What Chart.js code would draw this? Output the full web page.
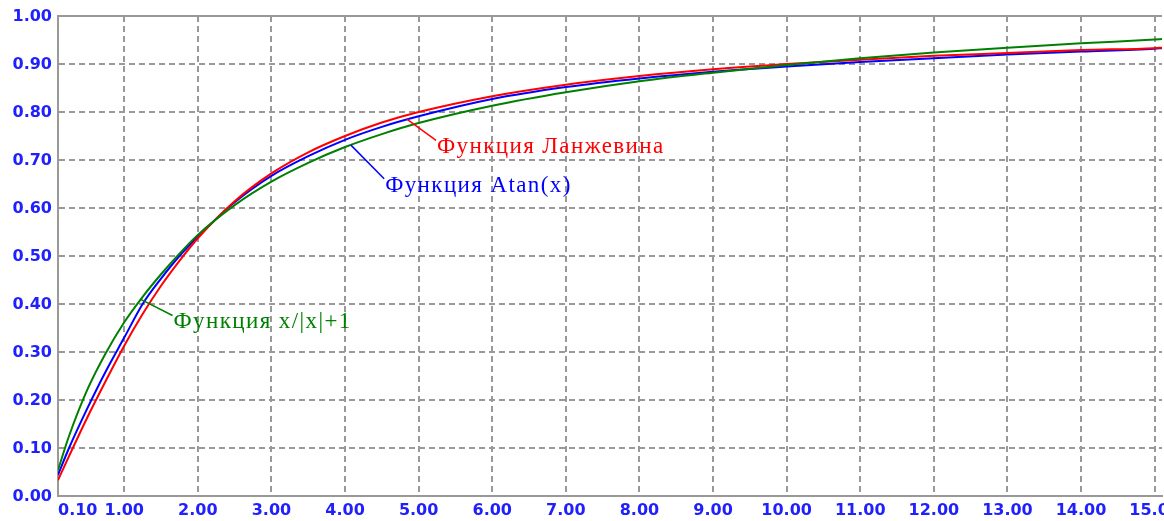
<!DOCTYPE html>
<html>
<head>
<meta charset="utf-8">
<script src="https://cdn.jsdelivr.net/npm/chart.js@4.4.1/dist/chart.umd.min.js"></script>
<style>
  body { margin: 0; background: #fff; }
  #wrap { width: 1164px; height: 521px; position: relative; }
</style>
</head>
<body>
<div id="wrap"><canvas id="chart"></canvas></div>
<script>
// values
var xs = [0.1, 0.25, 0.5, 0.75, 1, 1.25, 1.5, 1.75, 2, 2.5, 3, 3.5, 4, 4.5, 5, 6, 7, 8, 9, 10, 11, 12, 13, 14, 15, 15.1];
var langevin = [0.033, 0.083, 0.164, 0.240, 0.313, 0.379, 0.438, 0.490, 0.537, 0.614, 0.672, 0.716, 0.750, 0.778, 0.800, 0.833, 0.857, 0.875, 0.889, 0.900, 0.909, 0.917, 0.923, 0.929, 0.933, 0.934];
var atanFn = [0.044, 0.100, 0.183, 0.260, 0.330, 0.400, 0.453, 0.500, 0.540, 0.612, 0.667, 0.708, 0.742, 0.769, 0.791, 0.827, 0.852, 0.870, 0.884, 0.895, 0.904, 0.912, 0.920, 0.926, 0.932, 0.933];
var ratioFn = [0.054, 0.125, 0.222, 0.298, 0.362, 0.415, 0.462, 0.505, 0.544, 0.606, 0.655, 0.694, 0.727, 0.754, 0.777, 0.813, 0.841, 0.864, 0.882, 0.898, 0.912, 0.924, 0.934, 0.943, 0.951, 0.952];

var xTickValues = [0.1, 1, 2, 3, 4, 5, 6, 7, 8, 9, 10, 11, 12, 13, 14, 15];
var xTickLabels = ['0.10', '1.00', '2.00', '3.00', '4.00', '5.00', '6.00', '7.00', '8.00', '9.00', '10.00', '11.00', '12.00', '13.00', '14.00', '15.00'];

var seriesNames = ['Функция x/|x|+1', 'Функция Ланжевина', 'Функция Atan(x)'];

// callouts: [lead start x, lead start y, text x, text baseline y] in data units
var callouts = [
  [1.217, 0.410, 1.67, 0.349],
  [4.84, 0.785, 5.25, 0.714],
  [4.08, 0.731, 4.545, 0.634]
];
var colors = ['#008000', '#ff0000', '#0000ff'];
var tickColor = '#2020ff';
var tickFont = 'bold 16px "DejaVu Sans"';

function pts(ys) {
  return xs.map(function (x, i) { return {x: x, y: ys[i]}; });
}

var calloutPlugin = {
  id: 'callouts',
  afterDatasetsDraw: function (chart) {
    var ctx = chart.ctx, sx = chart.scales.x, sy = chart.scales.y;
    ctx.save();
    ctx.font = '23px "Liberation Serif"';
    ctx.letterSpacing = '1.4px';
    ctx.textBaseline = 'alphabetic';
    callouts.forEach(function (c, i) {
      var x0 = sx.getPixelForValue(c[0]), y0 = sy.getPixelForValue(c[1]);
      var x1 = sx.getPixelForValue(c[2]), y1 = sy.getPixelForValue(c[3]);
      ctx.strokeStyle = colors[i];
      ctx.fillStyle = colors[i];
      ctx.lineWidth = 1.5;
      ctx.beginPath();
      ctx.moveTo(x0, y0);
      ctx.lineTo(x1 - 1, y1 - 13);
      ctx.stroke();
      ctx.fillText(seriesNames[i], x1, y1);
    });
    ctx.restore();
  },
  afterDraw: function (chart) {
    var ctx = chart.ctx, sx = chart.scales.x, sy = chart.scales.y, area = chart.chartArea;
    ctx.save();
    ctx.font = tickFont;
    ctx.fillStyle = tickColor;
    ctx.textBaseline = 'middle';
    xTickValues.forEach(function (v, i) {
      ctx.textAlign = i === 0 ? 'left' : 'center';
      ctx.fillText(xTickLabels[i], sx.getPixelForValue(v), area.bottom + 15);
    });
    ctx.textAlign = 'right';
    sy.ticks.forEach(function (t) {
      ctx.fillText(t.value.toFixed(2), area.left - 6, sy.getPixelForValue(t.value) + 1);
    });
    ctx.restore();
  }
};

new Chart(document.getElementById('chart'), {
  type: 'line',
  data: {
    datasets: [
      {label: seriesNames[0], data: pts(ratioFn), borderColor: colors[0]},
      {label: seriesNames[1], data: pts(langevin), borderColor: colors[1]},
      {label: seriesNames[2], data: pts(atanFn), borderColor: colors[2]}
    ]
  },
  options: {
    responsive: true,
    maintainAspectRatio: false,
    animation: false,
    layout: {padding: {top: 16, right: 2, bottom: 25, left: 0}},
    elements: {
      point: {radius: 0},
      line: {borderWidth: 2, cubicInterpolationMode: 'monotone', fill: false}
    },
    plugins: {legend: {display: false}, tooltip: {enabled: false}},
    scales: {
      x: {
        type: 'linear',
        min: 0.1,
        max: 15.1,
        afterBuildTicks: function (s) {
          s.ticks = xTickValues.map(function (v) { return {value: v}; });
        },
        ticks: {display: false},
        grid: {color: '#999', lineWidth: 2, drawTicks: false},
        border: {color: '#999', width: 2, dash: [6, 4]}
      },
      y: {
        min: 0,
        max: 1,
        afterFit: function (s) { s.width = 58; },
        ticks: {stepSize: 0.1, display: false},
        grid: {color: '#999', lineWidth: 2, drawTicks: false},
        border: {
          color: '#999', width: 2,
          dash: function (c) { return c.tick && Math.abs(c.tick.value - 1) < 1e-9 ? [] : [6, 4]; }
        }
      }
    }
  },
  plugins: [calloutPlugin]
});
</script>
</body>
</html>
